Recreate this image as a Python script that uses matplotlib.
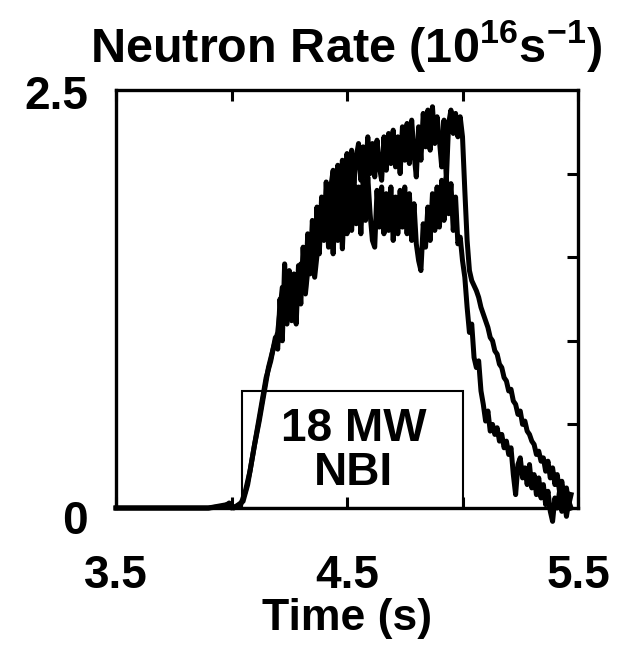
import matplotlib
matplotlib.use("Agg")
import matplotlib.pyplot as plt
from matplotlib.patches import Rectangle
from matplotlib.transforms import ScaledTranslation

plt.rcParams['font.family'] = ['Liberation Sans', 'DejaVu Sans']
plt.rcParams['font.weight'] = 'bold'
plt.rcParams['mathtext.default'] = 'regular'

# ---------------- data ----------------
t_a = [3.50, 3.70, 3.90, 3.97, 3.99, 4.01, 4.03, 4.05, 4.07, 4.09, 4.11, 4.13, 4.15, 4.17,
       4.19, 4.20, 4.21, 4.22, 4.23, 4.24, 4.25, 4.26, 4.27, 4.28, 4.29, 4.30, 4.31, 4.32,
       4.33, 4.34, 4.35, 4.36, 4.37, 4.38, 4.39, 4.40, 4.41, 4.42, 4.43, 4.44, 4.45, 4.46,
       4.47, 4.48, 4.49, 4.50, 4.51, 4.52, 4.53, 4.54, 4.55, 4.56, 4.57, 4.58, 4.59, 4.60,
       4.61, 4.62, 4.63, 4.64, 4.65, 4.66, 4.67, 4.68, 4.69, 4.70, 4.71, 4.72, 4.73, 4.74,
       4.75, 4.76, 4.77, 4.78, 4.79, 4.80, 4.81, 4.82, 4.83, 4.84, 4.85, 4.86, 4.87, 4.88,
       4.89, 4.90, 4.91, 4.92, 4.93, 4.94, 4.95, 4.96, 4.97, 4.98, 4.99, 5.00, 5.01, 5.02,
       5.03, 5.04, 5.05, 5.06, 5.07, 5.08, 5.09, 5.10, 5.11, 5.12, 5.13, 5.14, 5.15, 5.16,
       5.17, 5.18, 5.19, 5.20, 5.21, 5.22, 5.23, 5.24, 5.25, 5.26, 5.27, 5.28, 5.29, 5.30,
       5.31, 5.32, 5.33, 5.34, 5.35, 5.36, 5.37, 5.38, 5.39, 5.40, 5.41, 5.42, 5.43, 5.44,
       5.45, 5.46, 5.47]
rate_a = [0.00, 0.00, 0.00, 0.01, 0.03, 0.00, 0.02, 0.04, 0.14, 0.30, 0.46, 0.62, 0.78, 0.88,
          1.02, 0.95, 1.25, 1.00, 1.46, 1.15, 1.42, 1.12, 1.40, 1.10, 1.45, 1.22, 1.56, 1.30,
          1.64, 1.40, 1.72, 1.46, 1.80, 1.52, 1.86, 1.60, 1.95, 1.66, 1.92, 2.02, 1.74, 2.05,
          1.80, 2.08, 1.84, 2.12, 1.90, 2.14, 1.94, 2.10, 2.18, 1.96, 2.16, 1.98, 2.22, 2.00,
          2.18, 1.98, 2.20, 2.04, 1.96, 2.22, 2.02, 2.24, 2.06, 2.26, 2.04, 2.22, 2.00, 2.28,
          2.08, 2.30, 2.06, 2.32, 2.12, 1.98, 2.28, 2.08, 2.36, 2.16, 2.38, 2.14, 2.40, 2.18,
          2.34, 2.20, 2.04, 2.32, 1.96, 2.30, 2.38, 2.24, 2.36, 2.22, 2.34, 2.22, 1.90, 1.60,
          1.42, 1.36, 1.33, 1.30, 1.26, 1.20, 1.16, 1.12, 1.08, 1.02, 1.00, 0.94, 0.92, 0.86,
          0.84, 0.78, 0.76, 0.70, 0.71, 0.64, 0.62, 0.56, 0.58, 0.50, 0.52, 0.46, 0.44, 0.40,
          0.38, 0.32, 0.34, 0.28, 0.30, 0.22, 0.28, 0.18, 0.24, 0.14, 0.20, 0.10, 0.16, 0.06,
          0.12, 0.02, 0.08]

t_b = [3.50, 3.70, 3.90, 3.98, 4.00, 4.02, 4.04, 4.06, 4.08, 4.10, 4.12, 4.14, 4.16, 4.18,
       4.20, 4.22, 4.24, 4.26, 4.28, 4.30, 4.32, 4.34, 4.36, 4.38, 4.40, 4.41, 4.42, 4.43,
       4.44, 4.45, 4.46, 4.47, 4.48, 4.49, 4.50, 4.51, 4.52, 4.53, 4.54, 4.55, 4.56, 4.57,
       4.58, 4.59, 4.60, 4.61, 4.62, 4.63, 4.64, 4.65, 4.66, 4.67, 4.68, 4.69, 4.70, 4.71,
       4.72, 4.73, 4.74, 4.75, 4.76, 4.77, 4.78, 4.79, 4.80, 4.81, 4.82, 4.83, 4.84, 4.85,
       4.86, 4.87, 4.88, 4.89, 4.90, 4.91, 4.92, 4.93, 4.94, 4.95, 4.96, 4.97, 4.98, 4.99,
       5.00, 5.01, 5.02, 5.03, 5.04, 5.05, 5.06, 5.07, 5.08, 5.09, 5.10, 5.11, 5.12, 5.13,
       5.14, 5.15, 5.16, 5.17, 5.18, 5.19, 5.20, 5.21, 5.22, 5.23, 5.24, 5.25, 5.26, 5.27,
       5.28, 5.29, 5.30, 5.31, 5.32, 5.33, 5.34, 5.35, 5.36, 5.37, 5.38, 5.39, 5.40, 5.41,
       5.42, 5.43, 5.44, 5.45, 5.46, 5.47]
rate_b = [0.00, 0.00, 0.00, 0.02, 0.00, 0.01, 0.02, 0.10, 0.22, 0.38, 0.52, 0.68, 0.84, 0.95,
          1.05, 1.32, 1.10, 1.36, 1.18, 1.46, 1.28, 1.56, 1.38, 1.64, 1.62, 1.84, 1.56, 1.80,
          1.52, 1.84, 1.60, 1.86, 1.55, 1.88, 1.64, 1.90, 1.66, 1.94, 1.70, 1.92, 1.64, 1.96,
          1.72, 1.98, 1.76, 1.60, 1.56, 1.90, 1.68, 1.92, 1.64, 1.88, 1.66, 1.92, 1.60, 1.86,
          1.64, 1.90, 1.68, 1.92, 1.64, 1.88, 1.60, 1.82, 1.58, 1.48, 1.42, 1.70, 1.56, 1.80,
          1.60, 1.88, 1.66, 1.92, 1.68, 1.96, 1.72, 1.98, 1.76, 1.94, 1.66, 1.86, 1.58, 1.62,
          1.48, 1.38, 1.20, 1.05, 1.10, 0.90, 0.84, 0.88, 0.70, 0.62, 0.52, 0.58, 0.46, 0.50,
          0.44, 0.48, 0.40, 0.44, 0.36, 0.40, 0.32, 0.36, 0.20, 0.08, 0.26, 0.30, 0.18, 0.24,
          0.14, 0.26, 0.12, 0.20, 0.08, 0.18, 0.06, 0.14, 0.02, 0.10, -0.02, -0.08, 0.06, 0.00,
          0.10, -0.02, 0.05, -0.05, 0.04, 0.00]

x_ticks = [3.5, 4.5, 5.5]
x_ticklabels = ["3.5", "4.5", "5.5"]
x_minor = [4.0, 5.0]
y_ticks = [0, 2.5]
y_ticklabels = ["0", "2.5"]
y_minor = [0.5, 1.0, 1.5, 2.0]
nbi_start, nbi_end, nbi_height = 4.045, 5.0, 0.70

# ---------------- figure ----------------
W, H = 623, 651
fig = plt.figure(figsize=(W / 100, H / 100), dpi=100)
ax_l, ax_r, ax_t, ax_b = 116, 578, 90, 508
ax = fig.add_axes([ax_l / W, 1 - ax_b / H, (ax_r - ax_l) / W, (ax_b - ax_t) / H])

ax.add_patch(Rectangle((nbi_start, 0), nbi_end - nbi_start, nbi_height,
                       fill=False, edgecolor='black', linewidth=1.5, zorder=1))
ax.text(4.53, 0.34, "18 MW\nNBI", ha='center', va='center',
        fontsize=33, fontweight='bold', linespacing=1.02, zorder=2)

ax.plot(t_b, rate_b, color='black', linewidth=3.6, zorder=3, clip_on=False)
ax.plot(t_a, rate_a, color='black', linewidth=3.6, zorder=3, clip_on=False)

ax.set_xlim(3.5, 5.5)
ax.set_ylim(0, 2.5)
ax.set_xticks(x_ticks)
ax.set_xticklabels(x_ticklabels)
ax.set_xticks(x_minor, minor=True)
ax.set_yticks(y_ticks)
ax.set_yticklabels(y_ticklabels)
ax.set_yticks(y_minor, minor=True)

ax.tick_params(axis='x', which='both', direction='in', top=True, bottom=True,
               length=8, width=2.2, labelsize=33, pad=33)
ax.tick_params(axis='y', which='major', length=0, labelsize=33, pad=20)
ax.tick_params(axis='y', which='minor', direction='in', left=False, right=True,
               length=8, width=2.2)
for lab in ax.get_xticklabels() + ax.get_yticklabels():
    lab.set_fontweight('bold')

yl = ax.get_yticklabels()
yl[1].set_transform(yl[1].get_transform() + ScaledTranslation(0, -2/100, fig.dpi_scale_trans))
yl[0].set_transform(yl[0].get_transform() + ScaledTranslation(0, -9/100, fig.dpi_scale_trans))

for s in ax.spines.values():
    s.set_linewidth(2.4)

ax.set_xlabel("Time (s)", fontsize=32, fontweight='bold', labelpad=0)
fig.text(346 / W, 1 - 46 / H, r"Neutron Rate (10$^{16}$s$^{-1}$)", ha='center', va='center',
         fontsize=35, fontweight='bold')

fig.savefig("out.png", dpi=100)
